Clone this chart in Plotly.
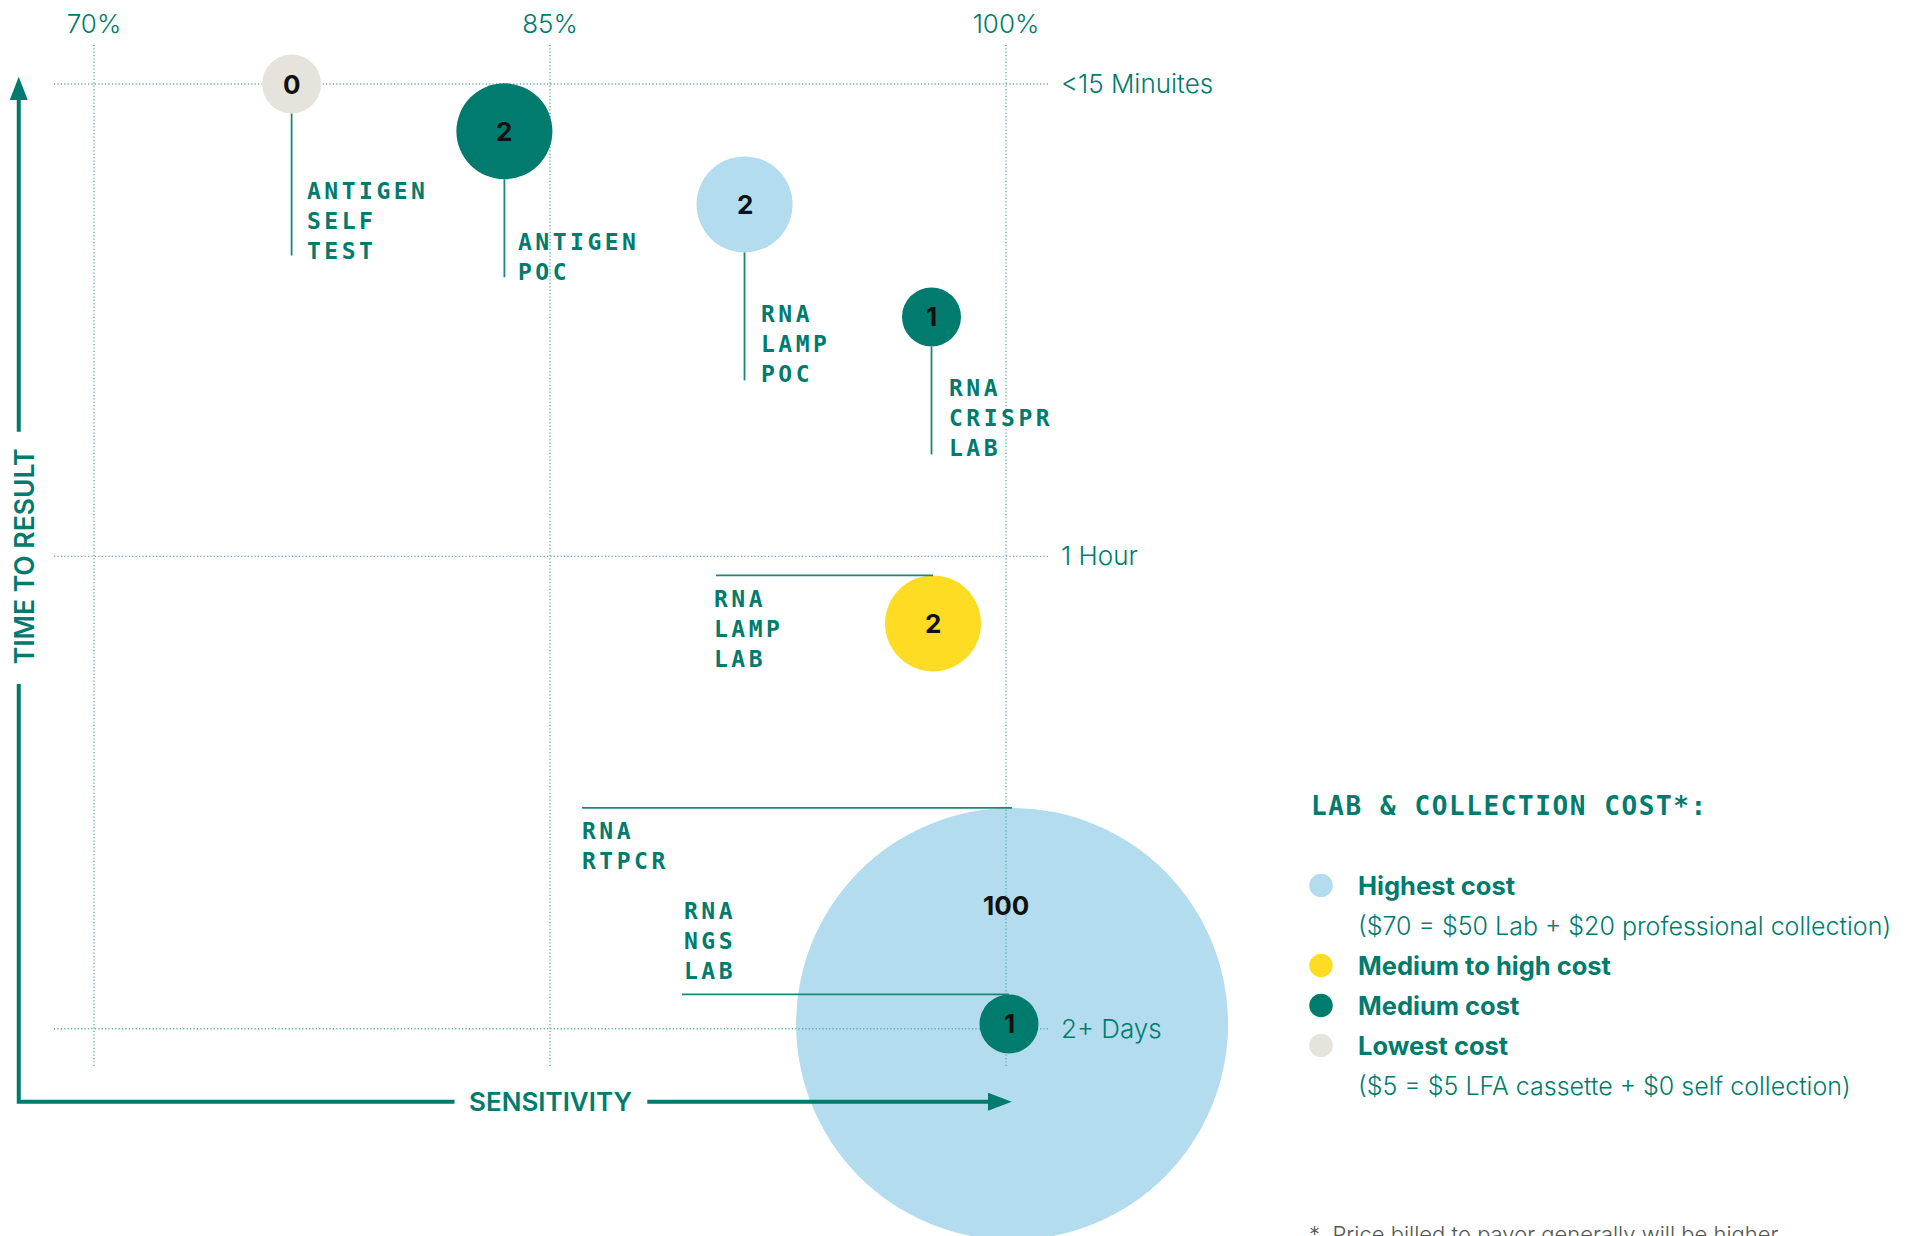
import plotly.graph_objects as go

# ------------------------------------------------------------------ data
tests = ["ANTIGEN SELF TEST", "ANTIGEN POC", "RNA LAMP POC", "RNA CRISPR LAB",
         "RNA LAMP LAB", "RNA RTPCR", "RNA NGS LAB"]
test_labels = ["ANTIGEN<br>SELF<br>TEST", "ANTIGEN<br>POC", "RNA<br>LAMP<br>POC",
               "RNA<br>CRISPR<br>LAB", "RNA<br>LAMP<br>LAB", "RNA<br>RTPCR",
               "RNA<br>NGS<br>LAB"]
sensitivity = [76.5, 83.5, 91.4, 97.55, 97.6, 100.2, 100.1]       # %
time_to_result = [0.0, 0.10, 0.255, 0.493, 1.142, 1.99, 1.99]     # 0=<15 min, 1=1 hour, 2=2+ days
bubble_value = [0, 2, 2, 1, 2, 100, 1]
cost_level = ["Lowest cost", "Medium cost", "Highest cost", "Medium cost",
              "Medium to high cost", "Highest cost", "Medium cost"]
bubble_diameter = [59, 96, 96, 59, 96, 432, 59]

x_ticks = [70, 85, 100]
x_tick_labels = ["70%", "85%", "100%"]
y_ticks = [0, 1, 2]
y_tick_labels = ["<15 Minuites", "1 Hour", "2+ Days"]

legend_title = "LAB & COLLECTION COST*:"
legend_levels = ["Highest cost", "Medium to high cost", "Medium cost", "Lowest cost"]
legend_notes = ["($70 = $50 Lab + $20 professional collection)", "", "",
                "($5 = $5 LFA cassette + $0 self collection)"]
footnote = "*\u00a0\u00a0Price billed to payor generally will be higher"
x_title = "SENSITIVITY"
y_title = "TIME TO RESULT"

# ------------------------------------------------------------------ styles / layout
TEAL = "#007B6E"
GRID = "#5FAEA5"
COLORS = {"Highest cost": "#B3DCEE", "Medium to high cost": "#FEDC24",
          "Medium cost": "#007B6E", "Lowest cost": "#E6E3DC"}
SANS = "Inter"
MONO = "DejaVu Sans Mono"

W, H = 1923, 1236
PL, PR, PT, PB = 54, 1048, 45, 1066          # plot area in px
X_RANGE = [68.684, 101.382]
Y_RANGE = [2.0790, -0.0826]                  # reversed

# leader lines: (direction, length px)
LEADERS = {"ANTIGEN SELF TEST": ("down", 142), "ANTIGEN POC": ("down", 98),
           "RNA LAMP POC": ("down", 128), "RNA CRISPR LAB": ("down", 108),
           "RNA LAMP LAB": ("left", 217), "RNA RTPCR": ("left", 430),
           "RNA NGS LAB": ("left", 327)}
# text block offsets (dx to left edge, dy to block centre, +down) in px
LABEL_OFF = {"ANTIGEN SELF TEST": (13, 137), "ANTIGEN POC": (12, 126),
             "RNA LAMP POC": (14, 140), "RNA CRISPR LAB": (15, 101),
             "RNA LAMP LAB": (-221, 6), "RNA RTPCR": (-432, -178),
             "RNA NGS LAB": (-327, -83)}
NUM_OFF = {"RNA RTPCR": (-6, -118)}

fig = go.Figure()

idx = list(range(len(tests)))
big = [i for i in idx if bubble_diameter[i] > 200]
small = [i for i in idx if bubble_diameter[i] <= 200]


def bubble_trace(ids):
    return go.Scatter(
        x=[sensitivity[i] for i in ids], y=[time_to_result[i] for i in ids],
        mode="markers", cliponaxis=False, hoverinfo="skip",
        marker=dict(size=[bubble_diameter[i] for i in ids],
                    color=[COLORS[cost_level[i]] for i in ids],
                    line=dict(width=0), opacity=1),
        xaxis="x", yaxis="y")


fig.add_trace(bubble_trace(big))

# dotted grid lines (drawn above the large bubble, below the others)
gx, gy = [], []
for xt in x_ticks:
    gx += [xt, xt, None]
    gy += [Y_RANGE[0], Y_RANGE[1], None]
for yt in y_ticks:
    gx += [X_RANGE[0], X_RANGE[1], None]
    gy += [yt, yt, None]
fig.add_trace(go.Scatter(x=gx, y=gy, mode="lines", hoverinfo="skip", cliponaxis=False,
                         line=dict(color=GRID, width=1.4, dash="1.2px,2.2px")))

fig.add_trace(bubble_trace(small))

shapes = []
annotations = []

for i in idx:
    name = tests[i]
    r = bubble_diameter[i] / 2
    d, L = LEADERS[name]
    if d == "down":
        x0, x1, y0, y1 = 0, 0, -r, -(r + L)
    else:
        x0, x1, y0, y1 = -L, 0, r, r
    shapes.append(dict(type="line", xref="x", yref="y", xsizemode="pixel", ysizemode="pixel",
                       xanchor=sensitivity[i], yanchor=time_to_result[i],
                       x0=x0, x1=x1, y0=y0, y1=y1, layer="above",
                       line=dict(color="#1A877B", width=1.8)))
    dx, dy = LABEL_OFF[name]
    annotations.append(dict(x=sensitivity[i], y=time_to_result[i], xref="x", yref="y",
                            text=test_labels[i], showarrow=False, xanchor="left",
                            yanchor="middle", align="left", xshift=dx, yshift=-dy,
                            font=dict(family=MONO, size=23, color=TEAL, weight=700)))
    nx, ny = NUM_OFF.get(name, (0, 0))
    annotations.append(dict(x=sensitivity[i], y=time_to_result[i], xref="x", yref="y",
                            text=str(bubble_value[i]), showarrow=False, xanchor="center",
                            yanchor="middle", xshift=nx, yshift=-ny,
                            font=dict(family=SANS, size=26, color="#111111", weight=700)))


# axis arrows (pixel paths anchored at the figure's top-left corner)
def P(px, py):
    return f"{px},{-py}"


AX = 18.75
AY = 1101.7
arrow_line = dict(color=TEAL, width=4)
base = dict(type="path", xref="paper", yref="paper", xsizemode="pixel", ysizemode="pixel",
            xanchor=0, yanchor=1, layer="above")
shapes.append(dict(base, path=f"M{P(AX, 431.7)}L{P(AX, 98)}", line=arrow_line))
shapes.append(dict(base, path=f"M{P(AX, 684)}L{P(AX, AY)}L{P(454.5, AY)}", line=arrow_line))
shapes.append(dict(base, path=f"M{P(647.3, AY)}L{P(990, AY)}", line=arrow_line))
shapes.append(dict(base, path=f"M{P(AX, 76.7)}L{P(AX - 9, 100)}L{P(AX + 9, 100)}Z",
                   line=dict(color=TEAL, width=0), fillcolor=TEAL))
shapes.append(dict(base, path=f"M{P(1011.7, AY)}L{P(988, AY - 9)}L{P(988, AY + 9)}Z",
                   line=dict(color=TEAL, width=0), fillcolor=TEAL))

annotations.append(dict(x=85, y=1 - AY / H, xref="x", yref="paper", text=x_title,
                        showarrow=False, xanchor="center", yanchor="middle",
                        font=dict(family=SANS, size=26, color=TEAL, weight=600)))
annotations.append(dict(x=24 / W, y=1, xref="paper", yref="y", text=y_title,
                        showarrow=False, xanchor="center", yanchor="middle", textangle=-90,
                        font=dict(family=SANS, size=26.5, color=TEAL, weight=600)))

# legend (own helper axes: rows of 40 px)
rows, row = [], 0
for lvl, note in zip(legend_levels, legend_notes):
    rows.append(row)
    annotations.append(dict(x=0, y=row, xref="x2", yref="y2", text=lvl, showarrow=False,
                            xanchor="left", yanchor="middle", xshift=35,
                            font=dict(family=SANS, size=25.5, color=TEAL, weight=700)))
    row += 1
    if note:
        annotations.append(dict(x=0, y=row, xref="x2", yref="y2", text=note, showarrow=False,
                                xanchor="left", yanchor="middle", xshift=35,
                                font=dict(family=SANS, size=25, color=TEAL, weight=300)))
        row += 1
fig.add_trace(go.Scatter(x=[0] * len(legend_levels), y=rows, mode="markers",
                         xaxis="x2", yaxis="y2", hoverinfo="skip", cliponaxis=False,
                         marker=dict(size=23.5, color=[COLORS[l] for l in legend_levels],
                                     line=dict(width=0))))
annotations.append(dict(x=0, y=-2, xref="x2", yref="y2", text=legend_title, showarrow=False,
                        xanchor="left", yanchor="middle", align="left", xshift=-12,
                        font=dict(family=MONO, size=26, color=TEAL, weight=700)))
annotations.append(dict(x=1307 / W, y=1 - 1219 / H, xref="paper", yref="paper", text=footnote,
                        showarrow=False, xanchor="left", yanchor="top",
                        font=dict(family=SANS, size=22, color="#555555", weight=300)))

fig.update_layout(
    width=W, height=H, margin=dict(l=0, r=0, t=0, b=0, pad=0),
    plot_bgcolor="white", paper_bgcolor="white", showlegend=False,
    xaxis=dict(domain=[PL / W, PR / W], range=X_RANGE, side="top", anchor="y",
               tickvals=x_ticks, ticktext=x_tick_labels, showgrid=False, zeroline=False,
               showline=False, ticks="", ticklabelstandoff=6, fixedrange=True,
               tickfont=dict(family=SANS, size=26, color=TEAL, weight=300)),
    yaxis=dict(domain=[1 - PB / H, 1 - PT / H], range=Y_RANGE, side="right", anchor="x",
               tickvals=y_ticks, ticktext=y_tick_labels, showgrid=False, zeroline=False,
               showline=False, ticks="", ticklabelstandoff=12, fixedrange=True,
               tickfont=dict(family=SANS, size=26, color=TEAL, weight=300)),
    xaxis2=dict(domain=[1297 / W, 1345 / W], range=[-1, 1], visible=False, anchor="y2",
                fixedrange=True),
    yaxis2=dict(domain=[1 - 1233.5 / H, 1 - 785.5 / H], range=[8.7, -2.5], visible=False,
                anchor="x2", fixedrange=True),
    shapes=shapes, annotations=annotations,
)

post = """
document.body.style.margin='0';
document.body.style.overflow='hidden';
var gd = document.getElementById('{plot_id}');
gd.querySelectorAll('text.annotation-text').forEach(function(t){
  var ff = t.style.fontFamily || '';
  if (ff.indexOf('Mono') >= 0) {
    var fs = parseFloat(t.style.fontSize);
    t.style.letterSpacing = (fs >= 25 ? '1.6px' : '3.5px');
  }
});
"""
fig.write_html("out.html", post_script=post, config={"displayModeBar": False})
